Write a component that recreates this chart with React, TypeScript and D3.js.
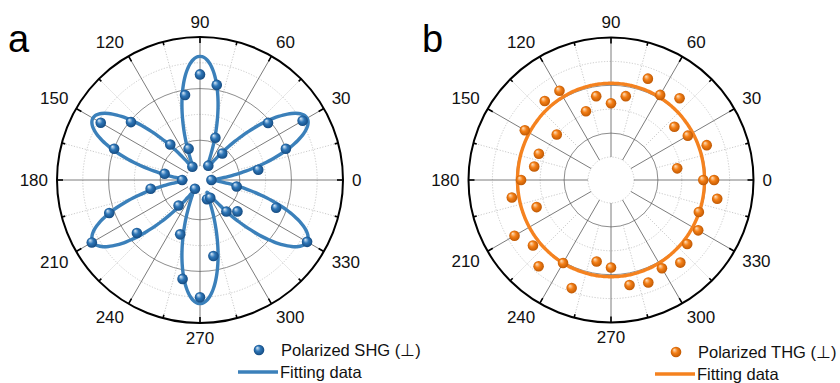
import React, { useEffect, useRef } from 'react';
import * as d3 from 'd3';

// polarization angle (deg) and normalized intensity
const shgAngles = [0, 10, 20, 30, 40, 50, 60, 70, 80, 90, 100, 110, 120, 130, 140, 150, 160, 170,
  180, 190, 200, 210, 220, 230, 240, 250, 260, 270, 280, 290, 300, 310, 320, 330, 340, 350];
const shgValues = [-0.02, 0.35, 0.6, 0.81, 0.58, 0.16, 0.02, 0.24, 0.64, 0.71, 0.56, 0.15, 0.01, 0.25,
  0.59, 0.78, 0.6, 0.17, 0.03, 0.28, 0.64, 0.86, 0.53, 0.15, -0.03, 0.34, 0.67, 0.8, 0.49, 0.05,
  0.05, 0.21, 0.27, 0.85, 0.52, 0.18];

const thgAngles = [0, 10, 20, 30, 40, 50, 60, 70, 80, 90, 100, 110, 120, 130, 140, 150, 160, 170,
  180, 190, 200, 210, 220, 230, 240, 250, 260, 270, 280, 290, 300, 310, 320, 330, 340, 350, 360];
const thgValues = [0.58, 0.37, 0.66, 0.55, 0.5, 0.7, 0.63, 0.71, 0.52, 0.45, 0.52, 0.42, 0.67, 0.67,
  0.4, 0.64, 0.45, 0.46, 0.56, 0.65, 0.47, 0.74, 0.66, 0.75, 0.61, 0.77, 0.5, 0.54, 0.7, 0.72,
  0.66, 0.71, 0.64, 0.65, 0.59, 0.71, 0.67];

// fit parameters: I = base + amp * sin^2(n * theta)
const shgFit = { base: 0, amp: 0.85, n: 3 };
const thgFit = { base: 0.59, amp: 0.027, n: 1 };

const angleLabels = ['0', '30', '60', '90', '120', '150', '180', '210', '240', '270', '300', '330'];
const gridLevels = [0, 0.2, 0.4, 0.6, 0.8];
const majorLevels = [0.2, 0.6];

const FONT = 'Arial, "Liberation Sans", Helvetica, sans-serif';

const rad = (deg) => (deg * Math.PI) / 180;
const polar = (deg, r) => [r * Math.cos(rad(deg)), -r * Math.sin(rad(deg))];
const sgn = (v) => (Math.abs(v) < 1e-6 ? 0 : Math.sign(v));

// label box centre: gap outside the axis, shifted by half the box toward the outside
function labelPos(deg, R, text) {
  const w = text.length * 0.556 * 17;
  const h = 12;
  const [x, y] = polar(deg, R + 9);
  return [x + (w / 2) * sgn(Math.cos(rad(deg))), y - (h / 2) * sgn(Math.sin(rad(deg)))];
}

function drawPanel(svg, cfg) {
  const g = svg.append('g').attr('transform', `translate(${cfg.cx},${cfg.cy})`);
  const r = d3.scaleLinear().domain([0, 1]).range([cfg.hole, cfg.R]);

  // sphere gradient for markers
  const grad = svg.select('defs').append('radialGradient')
    .attr('id', cfg.id + '-ball')
    .attr('cx', '50%').attr('cy', '50%').attr('r', '55%')
    .attr('fx', '32%').attr('fy', '28%');
  grad.append('stop').attr('offset', '0%').attr('stop-color', cfg.hi);
  grad.append('stop').attr('offset', '45%').attr('stop-color', cfg.mid);
  grad.append('stop').attr('offset', '100%').attr('stop-color', cfg.dark);

  // grid circles
  g.selectAll('circle.grid')
    .data(gridLevels)
    .enter()
    .append('circle')
    .attr('class', 'grid')
    .attr('r', d => r(d))
    .attr('fill', 'none')
    .attr('stroke', d => (majorLevels.includes(d) ? '#707070' : '#bdbdbd'))
    .attr('stroke-width', 0.8)
    .attr('stroke-dasharray', d => (majorLevels.includes(d) ? null : '1.2 1.6'));

  // minor radial lines (dotted)
  const minorAngles = d3.range(15, 360, 30);
  g.selectAll('line.minor')
    .data(minorAngles)
    .enter()
    .append('line')
    .attr('x1', d => polar(d, r(0.2))[0])
    .attr('y1', d => polar(d, r(0.2))[1])
    .attr('x2', d => polar(d, cfg.R)[0])
    .attr('y2', d => polar(d, cfg.R)[1])
    .attr('stroke', '#bdbdbd')
    .attr('stroke-width', 0.8)
    .attr('stroke-dasharray', '1.2 1.6');

  // major radial lines
  const majorAngles = d3.range(0, 360, 30);
  g.selectAll('line.major')
    .data(majorAngles)
    .enter()
    .append('line')
    .attr('x1', d => polar(d, cfg.hole)[0])
    .attr('y1', d => polar(d, cfg.hole)[1])
    .attr('x2', d => polar(d, cfg.R)[0])
    .attr('y2', d => polar(d, cfg.R)[1])
    .attr('stroke', '#5a5a5a')
    .attr('stroke-width', 0.8);

  // fitting curve
  const fitPts = d3.range(0, 360, 1).map(deg => ({
    deg,
    v: cfg.fit.base + cfg.fit.amp * Math.pow(Math.sin(rad(cfg.fit.n * deg)), 2),
  }));
  const line = d3.lineRadial()
    .angle(d => rad(90 - d.deg))
    .radius(d => r(d.v))
    .curve(d3.curveCardinalClosed);
  g.append('path')
    .attr('d', line(fitPts))
    .attr('fill', 'none')
    .attr('stroke', cfg.line)
    .attr('stroke-width', 3.4)
    .attr('stroke-linejoin', 'round');

  // data points
  g.selectAll('circle.pt')
    .data(cfg.angles.map((a, i) => ({ a, v: cfg.values[i] })))
    .enter()
    .append('circle')
    .attr('class', 'pt')
    .attr('cx', d => polar(d.a, r(d.v))[0])
    .attr('cy', d => polar(d.a, r(d.v))[1])
    .attr('r', 5.3)
    .attr('fill', `url(#${cfg.id}-ball)`);

  // outer axis circle and ticks
  g.append('circle')
    .attr('r', cfg.R)
    .attr('fill', 'none')
    .attr('stroke', '#000')
    .attr('stroke-width', 2);
  g.selectAll('line.tick')
    .data(d3.range(0, 360, 15))
    .enter()
    .append('line')
    .attr('x1', d => polar(d, cfg.R)[0])
    .attr('y1', d => polar(d, cfg.R)[1])
    .attr('x2', d => polar(d, cfg.R - (d % 30 === 0 ? 6 : 3.5))[0])
    .attr('y2', d => polar(d, cfg.R - (d % 30 === 0 ? 6 : 3.5))[1])
    .attr('stroke', '#000')
    .attr('stroke-width', 1.6);

  // angle labels
  g.selectAll('text.lab')
    .data(angleLabels)
    .enter()
    .append('text')
    .attr('x', d => labelPos(+d, cfg.R, d)[0])
    .attr('y', d => labelPos(+d, cfg.R, d)[1])
    .attr('text-anchor', 'middle')
    .attr('dominant-baseline', 'central')
    .style('font-family', FONT)
    .style('font-size', '17px')
    .style('fill', '#111')
    .text(d => d);

  // panel letter
  svg.append('text')
    .attr('x', cfg.letterX)
    .attr('y', 52)
    .style('font-family', FONT)
    .style('font-size', '38px')
    .style('fill', '#000')
    .text(cfg.letter);

  // legend
  const lg = svg.append('g').attr('transform', `translate(${cfg.legX},${cfg.legY})`);
  lg.append('circle')
    .attr('cx', 21)
    .attr('cy', 0)
    .attr('r', 5.3)
    .attr('fill', `url(#${cfg.id}-ball)`);
  lg.append('text')
    .attr('x', 43)
    .attr('y', 6)
    .style('font-family', FONT)
    .style('font-size', '16.5px')
    .style('fill', '#111')
    .text(cfg.name);
  lg.append('line')
    .attr('x1', 0)
    .attr('x2', 40)
    .attr('y1', 22)
    .attr('y2', 22)
    .attr('stroke', cfg.line)
    .attr('stroke-width', 3.4);
  lg.append('text')
    .attr('x', 42)
    .attr('y', 28)
    .style('font-family', FONT)
    .style('font-size', '16.5px')
    .style('fill', '#111')
    .text('Fitting data');
}

const App = () => {
  const svgRef = useRef(null);

  useEffect(() => {
    const svg = d3.select(svgRef.current);
    svg.selectAll('*').remove();
    svg.append('defs');

    drawPanel(svg, {
      id: 'shg', cx: 200, cy: 180, R: 143, hole: 14,
      angles: shgAngles, values: shgValues, fit: shgFit,
      line: '#3b80ba', hi: '#dcebf8', mid: '#2f77b8', dark: '#11457a',
      letter: 'a', letterX: 8, name: 'Polarized SHG (\u22A5)', legX: 238, legY: 350,
    });
    drawPanel(svg, {
      id: 'thg', cx: 611, cy: 180, R: 142.5, hole: 23,
      angles: thgAngles, values: thgValues, fit: thgFit,
      line: '#f5821f', hi: '#fde3c4', mid: '#f47f16', dark: '#b85300',
      letter: 'b', letterX: 422, name: 'Polarized THG (\u22A5)', legX: 655, legY: 352,
    });
  }, []);

  return (
    <svg
      ref={svgRef}
      width={840}
      height={383}
      style={{ position: 'absolute', left: 0, top: 0, background: '#fff' }}
    />
  );
};

export default App;
